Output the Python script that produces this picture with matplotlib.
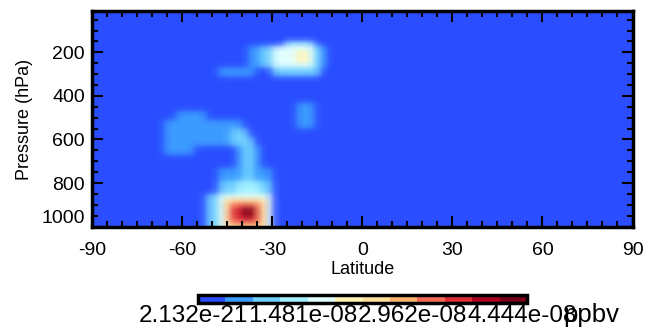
import numpy as np
import matplotlib
matplotlib.use('Agg')
import matplotlib.pyplot as plt
from matplotlib.colors import ListedColormap, BoundaryNorm, to_rgb
from matplotlib.ticker import MultipleLocator, FixedLocator
import matplotlib.transforms as mtransforms
import matplotlib.colorbar as mcolorbar

plt.rcParams['font.family'] = ['Liberation Sans', 'DejaVu Sans']
plt.rcParams['axes.unicode_minus'] = False

# ---- data grid ----
lat_edges = np.arange(-90, 91, 2)
p_edges = np.arange(10, 1011, 20)

# colour scale
vmin = 2.132e-21
vmax = 4.444e-08
n_levels = 12
cbar_ticks = [2.132e-21, 1.481e-08, 2.962e-08, 4.444e-08]
cbar_labels = ['2.132e-21', '1.481e-08', '2.962e-08', '4.444e-08']
units = 'ppbv'
level_colors = ['#2a4dff', '#3c9bff', '#6fcfff', '#a3f1ff', '#e2ffff', '#fff4b4',
                '#ffe09b', '#fdb16f', '#f46a55', '#dd2e37', '#ad0424', '#780019']

# patches of the field: latitude range, pressure range (hPa), mixing ratio (1e-8)
blob_lat0 = [-26, -38, -34, -30, -22, -30, -47, -22,
             -62, -66, -66, -44, -42, -40, -48, -40, -48, -42,
             -52, -48, -48, -46, -46, -44, -44, -44, -40, -40]
blob_lat1 = [-16, -12, -14, -16, -18, -14, -37, -16,
             -52, -41, -57, -38, -34, -36, -30, -36, -30, -34,
             -30, -30, -30, -32, -32, -34, -34, -36, -36, -36]
blob_p0 = [150, 172, 172, 172, 190, 270, 277, 440,
           478, 520, 626, 557, 626, 600, 730, 730, 800, 800,
           850, 850, 860, 870, 880, 885, 890, 905, 905, 915]
blob_p1 = [172, 270, 270, 270, 250, 316, 318, 550,
           520, 626, 663, 626, 730, 730, 800, 800, 850, 850,
           1002, 1002, 1002, 1002, 1002, 995, 985, 965, 965, 955]
blob_val = [1.30, 0.56, 0.93, 1.67, 2.04, 0.93, 0.56, 0.56,
            0.56, 0.56, 0.56, 0.93, 0.56, 0.93, 0.56, 0.93, 0.93, 1.30,
            0.93, 1.30, 1.67, 2.04, 2.41, 2.78, 3.15, 3.52, 3.89, 4.30]

lat_c = 0.5 * (lat_edges[:-1] + lat_edges[1:])
p_c = 0.5 * (p_edges[:-1] + p_edges[1:])
LAT, P = np.meshgrid(lat_c, p_c)
field = np.zeros_like(LAT)
for a0, a1, q0, q1, v in zip(blob_lat0, blob_lat1, blob_p0, blob_p1, blob_val):
    m = (LAT >= a0) & (LAT <= a1) & (P >= q0) & (P <= q1)
    field = np.where(m, np.maximum(field, v * 1e-8), field)

levels = np.linspace(vmin, vmax, n_levels + 1)
idx = np.clip(np.digitize(field, levels) - 1, 0, n_levels - 1)
palette = np.array([to_rgb(c) for c in level_colors])
rgb = palette[idx]


def soften(a, w=0.2):
    b = np.pad(a, ((1, 1), (0, 0), (0, 0)), mode='edge')
    a = w * b[:-2] + (1 - 2 * w) * b[1:-1] + w * b[2:]
    b = np.pad(a, ((0, 0), (1, 1), (0, 0)), mode='edge')
    return w * b[:, :-2] + (1 - 2 * w) * b[:, 1:-1] + w * b[:, 2:]


rgb = np.clip(soften(rgb), 0, 1)

# ---- figure ----
fig = plt.figure(figsize=(6.6, 3.33), dpi=100)
ax = fig.add_axes([92 / 660, 1 - 227 / 333, 540.5 / 660, 216 / 333])
ax.imshow(rgb, extent=[lat_edges[0], lat_edges[-1], p_edges[-1], p_edges[0]],
          aspect='auto', interpolation='bilinear', origin='upper')
ax.set_xlim(-90, 90)
ax.set_ylim(1002, 10)

ax.xaxis.set_major_locator(MultipleLocator(30))
ax.xaxis.set_minor_locator(MultipleLocator(5))
ax.yaxis.set_major_locator(FixedLocator([200, 400, 600, 800, 1000]))
ax.yaxis.set_minor_locator(MultipleLocator(50))
ax.tick_params(which='both', direction='in', top=True, right=True, width=1.5,
               labelsize=14, colors='black')
ax.tick_params(which='major', length=8)
ax.tick_params(which='minor', length=4)
ax.tick_params(axis='x', pad=11)
ax.tick_params(axis='y', pad=5)
for s in ax.spines.values():
    s.set_linewidth(2.5)

ax.set_xlabel('Latitude', fontsize=13, labelpad=1)
ax.set_ylabel('Pressure (hPa)', fontsize=13, labelpad=6)

ylabels = ax.get_yticklabels()
ylabels[-1].set_verticalalignment('bottom')

# ---- colour bar ----
cax = fig.add_axes([198 / 660, 1 - 303 / 333, 329 / 660, 8 / 333])
cmap = ListedColormap(level_colors)
norm = BoundaryNorm(levels, n_levels)
cb = mcolorbar.ColorbarBase(cax, cmap=cmap, norm=norm, orientation='horizontal',
                            ticks=[])
cb.outline.set_linewidth(2.5)
cax.tick_params(which='both', length=0)
cax.set_xticks([])
cax.minorticks_off()

trans = mtransforms.blended_transform_factory(cax.transData, fig.transFigure)
trans = mtransforms.offset_copy(trans, fig=fig, x=-5, y=0, units='dots')
for t, lab in zip(cbar_ticks, cbar_labels):
    fig.text(t, 1 - 322 / 333, lab, transform=trans, ha='center', va='baseline',
             fontsize=17.5)
fig.text(563 / 660, 1 - 322 / 333, units, ha='left', va='baseline', fontsize=18.5)

fig.savefig('out.png', dpi=100)
